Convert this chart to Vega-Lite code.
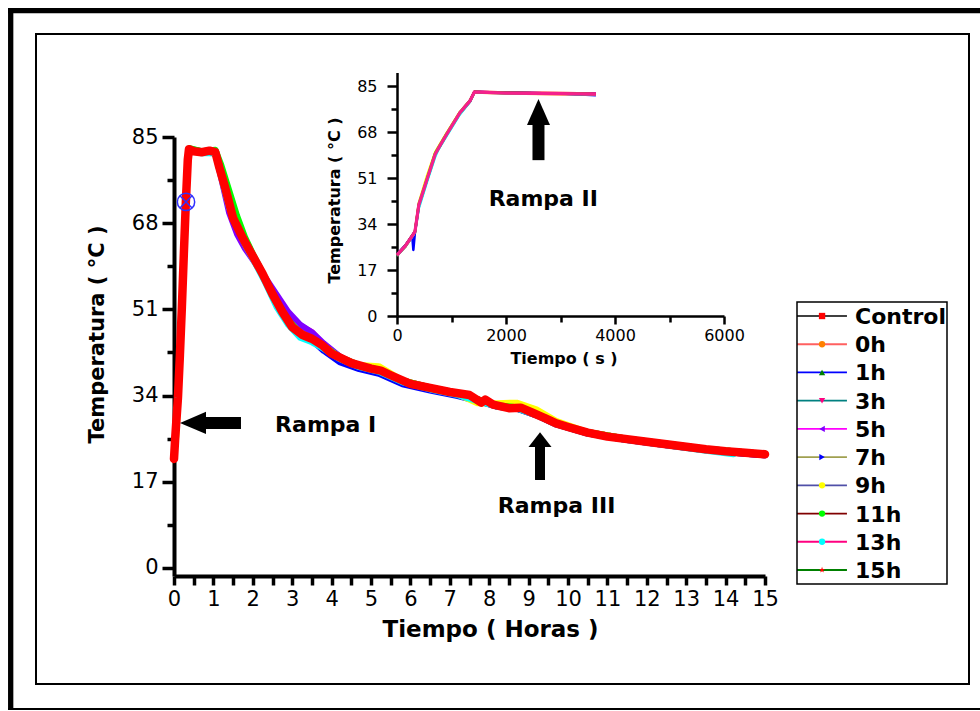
{
"$schema": "https://vega.github.io/schema/vega-lite/v6.json",
"width": 933, "height": 650,
"autosize": {"type": "none"},
"padding": {"left": 36, "top": 34, "right": 11, "bottom": 27},
"background": "white",
"config": {
  "font": "DejaVu Sans",
  "view": {"stroke": "black", "strokeWidth": 2},
  "axis": {"grid": false, "domainColor": "black", "tickColor": "black", "labelColor": "black", "titleColor": "black", "labelFont": "DejaVu Sans", "titleFont": "DejaVu Sans", "labelFlush": false, "labelOverlap": false}
},
"datasets": {
  "main": [
    {"s":"Control","t":0,"v":22.3},{"s":"Control","t":0.06,"v":29.5},{"s":"Control","t":0.15,"v":42.5},{"s":"Control","t":0.25,"v":62.5},{"s":"Control","t":0.35,"v":80.8},{"s":"Control","t":0.4,"v":82.6},{"s":"Control","t":0.7,"v":82.1},{"s":"Control","t":1.05,"v":82.1},{"s":"Control","t":1.2,"v":77.8},{"s":"Control","t":1.4,"v":71.8},{"s":"Control","t":1.6,"v":68},{"s":"Control","t":1.8,"v":64.5},{"s":"Control","t":2,"v":61.6},{"s":"Control","t":2.3,"v":57.4},{"s":"Control","t":2.6,"v":52.8},{"s":"Control","t":2.9,"v":48.9},{"s":"Control","t":3.2,"v":46.4},{"s":"Control","t":3.5,"v":45.3},{"s":"Control","t":3.8,"v":43.8},{"s":"Control","t":4.2,"v":41.6},{"s":"Control","t":4.7,"v":40},{"s":"Control","t":5.2,"v":39.1},{"s":"Control","t":5.8,"v":37},{"s":"Control","t":6.5,"v":35.6},{"s":"Control","t":7.2,"v":34.5},{"s":"Control","t":7.7,"v":33.3},{"s":"Control","t":8.2,"v":32.1},{"s":"Control","t":8.7,"v":31.7},{"s":"Control","t":9.2,"v":30.4},{"s":"Control","t":9.7,"v":28.6},{"s":"Control","t":10.5,"v":26.8},{"s":"Control","t":11.5,"v":25.5},{"s":"Control","t":12.5,"v":24.5},{"s":"Control","t":13.5,"v":23.5},{"s":"Control","t":14.5,"v":22.8},{"s":"Control","t":15,"v":22.5},
    {"s":"0h","t":0,"v":21.8},{"s":"0h","t":0.06,"v":28.5},{"s":"0h","t":0.15,"v":41.5},{"s":"0h","t":0.25,"v":61.5},{"s":"0h","t":0.35,"v":80.2},{"s":"0h","t":0.4,"v":82.4},{"s":"0h","t":0.7,"v":81.9},{"s":"0h","t":1.05,"v":81.9},{"s":"0h","t":1.2,"v":77.2},{"s":"0h","t":1.4,"v":71.2},{"s":"0h","t":1.6,"v":67.5},{"s":"0h","t":1.8,"v":64},{"s":"0h","t":2,"v":61.3},{"s":"0h","t":2.3,"v":57},{"s":"0h","t":2.6,"v":52.4},{"s":"0h","t":2.9,"v":48.5},{"s":"0h","t":3.2,"v":46.1},{"s":"0h","t":3.5,"v":45},{"s":"0h","t":3.8,"v":43.5},{"s":"0h","t":4.2,"v":41.3},{"s":"0h","t":4.7,"v":39.7},{"s":"0h","t":5.2,"v":38.8},{"s":"0h","t":5.8,"v":36.7},{"s":"0h","t":6.5,"v":35.3},{"s":"0h","t":7.2,"v":34.2},{"s":"0h","t":7.7,"v":33},{"s":"0h","t":8.2,"v":31.8},{"s":"0h","t":8.7,"v":31.4},{"s":"0h","t":9.2,"v":30.1},{"s":"0h","t":9.7,"v":28.3},{"s":"0h","t":10.5,"v":26.5},{"s":"0h","t":11.5,"v":25.2},{"s":"0h","t":12.5,"v":24.2},{"s":"0h","t":13.5,"v":23.2},{"s":"0h","t":14.5,"v":22.5},{"s":"0h","t":15,"v":22.2},
    {"s":"1h","t":0,"v":22},{"s":"1h","t":0.06,"v":28},{"s":"1h","t":0.15,"v":40},{"s":"1h","t":0.25,"v":60.5},{"s":"1h","t":0.35,"v":80},{"s":"1h","t":0.4,"v":82.7},{"s":"1h","t":0.7,"v":82.2},{"s":"1h","t":1.05,"v":82.1},{"s":"1h","t":1.2,"v":77.6},{"s":"1h","t":1.4,"v":71.6},{"s":"1h","t":1.6,"v":67.9},{"s":"1h","t":1.8,"v":64.4},{"s":"1h","t":2,"v":61.6},{"s":"1h","t":2.3,"v":57.3},{"s":"1h","t":2.6,"v":52.7},{"s":"1h","t":2.9,"v":48.8},{"s":"1h","t":3.2,"v":46.4},{"s":"1h","t":3.5,"v":45.3},{"s":"1h","t":3.8,"v":43.8},{"s":"1h","t":4.2,"v":41.4},{"s":"1h","t":4.7,"v":39.8},{"s":"1h","t":5.2,"v":38.9},{"s":"1h","t":5.8,"v":36.8},{"s":"1h","t":6.5,"v":35.4},{"s":"1h","t":7.2,"v":34.3},{"s":"1h","t":7.7,"v":33.1},{"s":"1h","t":8.2,"v":31.9},{"s":"1h","t":8.7,"v":31.5},{"s":"1h","t":9.2,"v":30.2},{"s":"1h","t":9.7,"v":28.4},{"s":"1h","t":10.5,"v":26.6},{"s":"1h","t":11.5,"v":25.3},{"s":"1h","t":12.5,"v":24.3},{"s":"1h","t":13.5,"v":23.3},{"s":"1h","t":14.5,"v":22.6},{"s":"1h","t":15,"v":22.3},
    {"s":"3h","t":0,"v":22.2},{"s":"3h","t":0.06,"v":29.2},{"s":"3h","t":0.15,"v":42.3},{"s":"3h","t":0.25,"v":62.3},{"s":"3h","t":0.35,"v":80.7},{"s":"3h","t":0.4,"v":82.6},{"s":"3h","t":0.7,"v":82.1},{"s":"3h","t":1.05,"v":82.2},{"s":"3h","t":1.2,"v":77.3},{"s":"3h","t":1.4,"v":71},{"s":"3h","t":1.6,"v":66.8},{"s":"3h","t":1.8,"v":63.3},{"s":"3h","t":2,"v":61},{"s":"3h","t":2.3,"v":57},{"s":"3h","t":2.6,"v":52.8},{"s":"3h","t":2.9,"v":49.2},{"s":"3h","t":3.2,"v":47.8},{"s":"3h","t":3.5,"v":46.5},{"s":"3h","t":3.8,"v":44},{"s":"3h","t":4.2,"v":41.7},{"s":"3h","t":4.7,"v":40},{"s":"3h","t":5.2,"v":39.1},{"s":"3h","t":5.8,"v":37},{"s":"3h","t":6.5,"v":35.6},{"s":"3h","t":7.2,"v":34.5},{"s":"3h","t":7.7,"v":33.3},{"s":"3h","t":8.2,"v":32.1},{"s":"3h","t":8.7,"v":31.7},{"s":"3h","t":9.2,"v":30.4},{"s":"3h","t":9.7,"v":28.6},{"s":"3h","t":10.5,"v":26.8},{"s":"3h","t":11.5,"v":25.5},{"s":"3h","t":12.5,"v":24.5},{"s":"3h","t":13.5,"v":23.5},{"s":"3h","t":14.5,"v":22.8},{"s":"3h","t":15,"v":22.5},
    {"s":"5h","t":0,"v":21.9},{"s":"5h","t":0.06,"v":28.8},{"s":"5h","t":0.15,"v":41.8},{"s":"5h","t":0.25,"v":61.8},{"s":"5h","t":0.35,"v":80.3},{"s":"5h","t":0.4,"v":82.4},{"s":"5h","t":0.7,"v":81.9},{"s":"5h","t":1.05,"v":81.8},{"s":"5h","t":1.2,"v":76.8},{"s":"5h","t":1.4,"v":70},{"s":"5h","t":1.6,"v":65.8},{"s":"5h","t":1.8,"v":63},{"s":"5h","t":2,"v":60.8},{"s":"5h","t":2.3,"v":57.5},{"s":"5h","t":2.6,"v":54},{"s":"5h","t":2.9,"v":50.5},{"s":"5h","t":3.2,"v":48},{"s":"5h","t":3.5,"v":46.5},{"s":"5h","t":3.8,"v":44.3},{"s":"5h","t":4.2,"v":41.8},{"s":"5h","t":4.7,"v":39.5},{"s":"5h","t":5.2,"v":38.5},{"s":"5h","t":5.8,"v":36.7},{"s":"5h","t":6.5,"v":35.3},{"s":"5h","t":7.2,"v":34.2},{"s":"5h","t":7.7,"v":33},{"s":"5h","t":8.2,"v":31.8},{"s":"5h","t":8.7,"v":31.4},{"s":"5h","t":9.2,"v":30.1},{"s":"5h","t":9.7,"v":28.3},{"s":"5h","t":10.5,"v":26.5},{"s":"5h","t":11.5,"v":25.2},{"s":"5h","t":12.5,"v":24.2},{"s":"5h","t":13.5,"v":23.2},{"s":"5h","t":14.5,"v":22.5},{"s":"5h","t":15,"v":22.2},
    {"s":"7h","t":0,"v":22.1},{"s":"7h","t":0.06,"v":29.3},{"s":"7h","t":0.15,"v":42.2},{"s":"7h","t":0.25,"v":62.2},{"s":"7h","t":0.35,"v":80.6},{"s":"7h","t":0.4,"v":82.5},{"s":"7h","t":0.7,"v":82},{"s":"7h","t":1.05,"v":82},{"s":"7h","t":1.2,"v":77.4},{"s":"7h","t":1.4,"v":71.3},{"s":"7h","t":1.6,"v":67.6},{"s":"7h","t":1.8,"v":64.1},{"s":"7h","t":2,"v":61.3},{"s":"7h","t":2.3,"v":57},{"s":"7h","t":2.6,"v":52.4},{"s":"7h","t":2.9,"v":48.5},{"s":"7h","t":3.2,"v":46},{"s":"7h","t":3.5,"v":44.9},{"s":"7h","t":3.8,"v":42.8},{"s":"7h","t":4.2,"v":40.6},{"s":"7h","t":4.7,"v":39.2},{"s":"7h","t":5.2,"v":38.3},{"s":"7h","t":5.8,"v":36.2},{"s":"7h","t":6.5,"v":35},{"s":"7h","t":7.2,"v":33.9},{"s":"7h","t":7.7,"v":32.9},{"s":"7h","t":8.2,"v":31.8},{"s":"7h","t":8.7,"v":31.4},{"s":"7h","t":9.2,"v":30.1},{"s":"7h","t":9.7,"v":28.3},{"s":"7h","t":10.5,"v":26.5},{"s":"7h","t":11.5,"v":25.2},{"s":"7h","t":12.5,"v":24.2},{"s":"7h","t":13.5,"v":23.2},{"s":"7h","t":14.5,"v":22.5},{"s":"7h","t":15,"v":22.2},
    {"s":"9h","t":0,"v":22.5},{"s":"9h","t":0.06,"v":26},{"s":"9h","t":0.15,"v":40},{"s":"9h","t":0.25,"v":61.5},{"s":"9h","t":0.35,"v":80.4},{"s":"9h","t":0.4,"v":82.4},{"s":"9h","t":0.7,"v":82},{"s":"9h","t":1.05,"v":81.9},{"s":"9h","t":1.2,"v":77.5},{"s":"9h","t":1.4,"v":71.6},{"s":"9h","t":1.6,"v":67.9},{"s":"9h","t":1.8,"v":64.4},{"s":"9h","t":2,"v":61.6},{"s":"9h","t":2.3,"v":57.3},{"s":"9h","t":2.6,"v":52.7},{"s":"9h","t":2.9,"v":48.8},{"s":"9h","t":3.2,"v":46.4},{"s":"9h","t":3.5,"v":45.3},{"s":"9h","t":3.8,"v":43.8},{"s":"9h","t":4.2,"v":41.6},{"s":"9h","t":4.7,"v":40},{"s":"9h","t":5.2,"v":39.8},{"s":"9h","t":5.8,"v":37},{"s":"9h","t":6.5,"v":35.6},{"s":"9h","t":7.2,"v":34.2},{"s":"9h","t":7.7,"v":32.5},{"s":"9h","t":8.2,"v":32.5},{"s":"9h","t":8.7,"v":32.6},{"s":"9h","t":9.2,"v":31.3},{"s":"9h","t":9.7,"v":29},{"s":"9h","t":10.5,"v":26.8},{"s":"9h","t":11.5,"v":25.5},{"s":"9h","t":12.5,"v":24.5},{"s":"9h","t":13.5,"v":23.5},{"s":"9h","t":14.5,"v":22.8},{"s":"9h","t":15,"v":22.5},
    {"s":"11h","t":0,"v":22.4},{"s":"11h","t":0.06,"v":30},{"s":"11h","t":0.15,"v":43},{"s":"11h","t":0.25,"v":63},{"s":"11h","t":0.35,"v":81},{"s":"11h","t":0.4,"v":82.8},{"s":"11h","t":0.7,"v":82.2},{"s":"11h","t":1.05,"v":82.5},{"s":"11h","t":1.2,"v":79.5},{"s":"11h","t":1.4,"v":74.5},{"s":"11h","t":1.6,"v":69.5},{"s":"11h","t":1.8,"v":65.3},{"s":"11h","t":2,"v":62},{"s":"11h","t":2.3,"v":57.5},{"s":"11h","t":2.6,"v":52.8},{"s":"11h","t":2.9,"v":48.9},{"s":"11h","t":3.2,"v":46.4},{"s":"11h","t":3.5,"v":45.3},{"s":"11h","t":3.8,"v":43.8},{"s":"11h","t":4.2,"v":41.6},{"s":"11h","t":4.7,"v":40},{"s":"11h","t":5.2,"v":39.1},{"s":"11h","t":5.8,"v":37},{"s":"11h","t":6.5,"v":35.6},{"s":"11h","t":7.2,"v":34.5},{"s":"11h","t":7.7,"v":33.3},{"s":"11h","t":8.2,"v":32.1},{"s":"11h","t":8.7,"v":31.7},{"s":"11h","t":9.2,"v":30.4},{"s":"11h","t":9.7,"v":28.6},{"s":"11h","t":10.5,"v":26.8},{"s":"11h","t":11.5,"v":25.5},{"s":"11h","t":12.5,"v":24.5},{"s":"11h","t":13.5,"v":23.5},{"s":"11h","t":14.5,"v":22.8},{"s":"11h","t":15,"v":22.5},
    {"s":"13h","t":0,"v":21.6},{"s":"13h","t":0.06,"v":28.2},{"s":"13h","t":0.15,"v":41.2},{"s":"13h","t":0.25,"v":61.2},{"s":"13h","t":0.35,"v":80.1},{"s":"13h","t":0.4,"v":82.3},{"s":"13h","t":0.7,"v":81.8},{"s":"13h","t":1.05,"v":81.8},{"s":"13h","t":1.2,"v":77},{"s":"13h","t":1.4,"v":71},{"s":"13h","t":1.6,"v":67.3},{"s":"13h","t":1.8,"v":63.8},{"s":"13h","t":2,"v":60.9},{"s":"13h","t":2.3,"v":56.5},{"s":"13h","t":2.6,"v":51.5},{"s":"13h","t":2.9,"v":47.9},{"s":"13h","t":3.2,"v":45.4},{"s":"13h","t":3.5,"v":44.5},{"s":"13h","t":3.8,"v":43.2},{"s":"13h","t":4.2,"v":41.2},{"s":"13h","t":4.7,"v":39.6},{"s":"13h","t":5.2,"v":38.7},{"s":"13h","t":5.8,"v":36.6},{"s":"13h","t":6.5,"v":35.2},{"s":"13h","t":7.2,"v":34.1},{"s":"13h","t":7.7,"v":32.9},{"s":"13h","t":8.2,"v":31.8},{"s":"13h","t":8.7,"v":31.4},{"s":"13h","t":9.2,"v":30.1},{"s":"13h","t":9.7,"v":28.3},{"s":"13h","t":10.5,"v":26.5},{"s":"13h","t":11.5,"v":25.2},{"s":"13h","t":12.5,"v":24.2},{"s":"13h","t":13.5,"v":23.1},{"s":"13h","t":14.2,"v":22.4},
    {"s":"15h","t":0,"v":21.5},{"s":"15h","t":0.03,"v":25.5},{"s":"15h","t":0.06,"v":29},{"s":"15h","t":0.1,"v":33.5},{"s":"15h","t":0.15,"v":42},{"s":"15h","t":0.2,"v":51.5},{"s":"15h","t":0.25,"v":62},{"s":"15h","t":0.3,"v":72},{"s":"15h","t":0.35,"v":80.5},{"s":"15h","t":0.38,"v":82.6},{"s":"15h","t":0.5,"v":82.2},{"s":"15h","t":0.7,"v":82},{"s":"15h","t":0.9,"v":82.3},{"s":"15h","t":1.05,"v":82},{"s":"15h","t":1.15,"v":79},{"s":"15h","t":1.3,"v":75},{"s":"15h","t":1.5,"v":69},{"s":"15h","t":1.75,"v":65},{"s":"15h","t":2,"v":61.5},{"s":"15h","t":2.25,"v":58},{"s":"15h","t":2.5,"v":54},{"s":"15h","t":2.75,"v":50.5},{"s":"15h","t":3,"v":47.5},{"s":"15h","t":3.25,"v":46},{"s":"15h","t":3.5,"v":45.2},{"s":"15h","t":3.75,"v":44},{"s":"15h","t":4,"v":42.3},{"s":"15h","t":4.5,"v":40.4},{"s":"15h","t":5,"v":39.3},{"s":"15h","t":5.25,"v":38.9},{"s":"15h","t":5.5,"v":38},{"s":"15h","t":6,"v":36.3},{"s":"15h","t":6.5,"v":35.5},{"s":"15h","t":7,"v":34.7},{"s":"15h","t":7.5,"v":34.1},{"s":"15h","t":7.8,"v":32.6},{"s":"15h","t":7.9,"v":33.2},{"s":"15h","t":8.1,"v":32.2},{"s":"15h","t":8.5,"v":31.5},{"s":"15h","t":8.8,"v":31.6},{"s":"15h","t":9.1,"v":30.6},{"s":"15h","t":9.4,"v":29.6},{"s":"15h","t":9.7,"v":28.5},{"s":"15h","t":10,"v":27.8},{"s":"15h","t":10.5,"v":26.7},{"s":"15h","t":11,"v":25.9},{"s":"15h","t":11.5,"v":25.4},{"s":"15h","t":12,"v":24.9},{"s":"15h","t":12.5,"v":24.4},{"s":"15h","t":13,"v":23.9},{"s":"15h","t":13.5,"v":23.4},{"s":"15h","t":14,"v":23},{"s":"15h","t":14.5,"v":22.7},{"s":"15h","t":15,"v":22.4}
  ],
  "inset": [
    {"s":"Control","t":0,"v":22.7},{"s":"Control","t":150,"v":26},{"s":"Control","t":300,"v":30.4},{"s":"Control","t":330,"v":31.4},{"s":"Control","t":400,"v":41.2},{"s":"Control","t":550,"v":50.7},{"s":"Control","t":700,"v":60},{"s":"Control","t":760,"v":62.2},{"s":"Control","t":900,"v":67},{"s":"Control","t":1150,"v":75.2},{"s":"Control","t":1340,"v":79.7},{"s":"Control","t":1420,"v":83},{"s":"Control","t":2000,"v":82.6},{"s":"Control","t":3000,"v":82.4},{"s":"Control","t":3650,"v":82.2},
    {"s":"0h","t":0,"v":22.3},{"s":"0h","t":150,"v":25.6},{"s":"0h","t":300,"v":30},{"s":"0h","t":330,"v":31},{"s":"0h","t":400,"v":40.8},{"s":"0h","t":550,"v":50.3},{"s":"0h","t":700,"v":59.6},{"s":"0h","t":760,"v":61.8},{"s":"0h","t":900,"v":66.6},{"s":"0h","t":1150,"v":74.8},{"s":"0h","t":1340,"v":79.3},{"s":"0h","t":1420,"v":82.6},{"s":"0h","t":2000,"v":82.2},{"s":"0h","t":3000,"v":82},{"s":"0h","t":3650,"v":81.8},
    {"s":"1h","t":0,"v":22.3},{"s":"1h","t":150,"v":25.6},{"s":"1h","t":300,"v":30},{"s":"1h","t":330,"v":31},{"s":"1h","t":400,"v":40.5},{"s":"1h","t":550,"v":50},{"s":"1h","t":700,"v":59.5},{"s":"1h","t":760,"v":61.8},{"s":"1h","t":900,"v":66.6},{"s":"1h","t":1150,"v":74.7},{"s":"1h","t":1340,"v":79.3},{"s":"1h","t":1420,"v":82.7},{"s":"1h","t":2000,"v":82.4},{"s":"1h","t":3000,"v":82.2},{"s":"1h","t":3650,"v":82},
    {"s":"3h","t":0,"v":22.5},{"s":"3h","t":150,"v":25.8},{"s":"3h","t":300,"v":30.2},{"s":"3h","t":330,"v":31.2},{"s":"3h","t":400,"v":41},{"s":"3h","t":550,"v":50.5},{"s":"3h","t":700,"v":59.8},{"s":"3h","t":760,"v":62},{"s":"3h","t":900,"v":66.8},{"s":"3h","t":1150,"v":75},{"s":"3h","t":1340,"v":79.5},{"s":"3h","t":1420,"v":82.8},{"s":"3h","t":2000,"v":82.4},{"s":"3h","t":3000,"v":82.2},{"s":"3h","t":3650,"v":82},
    {"s":"5h","t":0,"v":22.6},{"s":"5h","t":150,"v":26},{"s":"5h","t":300,"v":30.4},{"s":"5h","t":330,"v":31.4},{"s":"5h","t":400,"v":41.5},{"s":"5h","t":550,"v":51},{"s":"5h","t":700,"v":60.2},{"s":"5h","t":760,"v":62.3},{"s":"5h","t":900,"v":67},{"s":"5h","t":1150,"v":75.2},{"s":"5h","t":1340,"v":79.7},{"s":"5h","t":1420,"v":82.9},{"s":"5h","t":2000,"v":82.5},{"s":"5h","t":3000,"v":82.2},{"s":"5h","t":3650,"v":82.1},
    {"s":"7h","t":0,"v":22.8},{"s":"7h","t":150,"v":26},{"s":"7h","t":280,"v":29.6},{"s":"7h","t":300,"v":24.4},{"s":"7h","t":330,"v":31},{"s":"7h","t":400,"v":40.4},{"s":"7h","t":550,"v":50.2},{"s":"7h","t":700,"v":59.5},{"s":"7h","t":760,"v":61.8},{"s":"7h","t":900,"v":66.6},{"s":"7h","t":1150,"v":74.8},{"s":"7h","t":1340,"v":79.4},{"s":"7h","t":1420,"v":82.8},{"s":"7h","t":2000,"v":82.5},{"s":"7h","t":3000,"v":82.2},{"s":"7h","t":3650,"v":81.6},
    {"s":"9h","t":0,"v":22.4},{"s":"9h","t":150,"v":25.7},{"s":"9h","t":300,"v":30},{"s":"9h","t":330,"v":31.2},{"s":"9h","t":400,"v":41.8},{"s":"9h","t":550,"v":51.8},{"s":"9h","t":700,"v":60.6},{"s":"9h","t":760,"v":62.6},{"s":"9h","t":900,"v":67.3},{"s":"9h","t":1150,"v":75.3},{"s":"9h","t":1340,"v":79.7},{"s":"9h","t":1420,"v":82.8},{"s":"9h","t":2000,"v":82.4},{"s":"9h","t":3000,"v":82.2},{"s":"9h","t":3650,"v":82},
    {"s":"11h","t":0,"v":22.5},{"s":"11h","t":150,"v":25.9},{"s":"11h","t":300,"v":30.3},{"s":"11h","t":330,"v":31.3},{"s":"11h","t":400,"v":41.2},{"s":"11h","t":550,"v":50.8},{"s":"11h","t":700,"v":60.2},{"s":"11h","t":760,"v":62.2},{"s":"11h","t":900,"v":67},{"s":"11h","t":1150,"v":75.1},{"s":"11h","t":1340,"v":79.6},{"s":"11h","t":1420,"v":82.8},{"s":"11h","t":2000,"v":82.4},{"s":"11h","t":3000,"v":82.2},{"s":"11h","t":3650,"v":82},
    {"s":"13h","t":0,"v":22.3},{"s":"13h","t":150,"v":25.6},{"s":"13h","t":300,"v":30},{"s":"13h","t":330,"v":31},{"s":"13h","t":400,"v":39.8},{"s":"13h","t":550,"v":49.6},{"s":"13h","t":700,"v":58.8},{"s":"13h","t":760,"v":61.6},{"s":"13h","t":900,"v":66.2},{"s":"13h","t":1150,"v":74.4},{"s":"13h","t":1340,"v":79.2},{"s":"13h","t":1420,"v":82.7},{"s":"13h","t":2000,"v":82.3},{"s":"13h","t":3000,"v":82.1},{"s":"13h","t":3650,"v":81.9},
    {"s":"15h","t":0,"v":22.5},{"s":"15h","t":150,"v":25.8},{"s":"15h","t":300,"v":30.2},{"s":"15h","t":330,"v":31.2},{"s":"15h","t":400,"v":41},{"s":"15h","t":550,"v":50.5},{"s":"15h","t":700,"v":59.8},{"s":"15h","t":760,"v":62},{"s":"15h","t":900,"v":66.8},{"s":"15h","t":1150,"v":75},{"s":"15h","t":1340,"v":79.5},{"s":"15h","t":1420,"v":82.8},{"s":"15h","t":2000,"v":82.4},{"s":"15h","t":3000,"v":82.2},{"s":"15h","t":3650,"v":82}
  ],
  "legend": [
    {"s":"Control"},{"s":"0h"},{"s":"1h"},{"s":"3h"},{"s":"5h"},{"s":"7h"},{"s":"9h"},{"s":"11h"},{"s":"13h"},{"s":"15h"}
  ],
  "one": [{}]
},
"resolve": {"scale": {"x": "independent", "y": "independent"}},
"layer": [
  {
    "data": {"name": "main"},
    "transform": [{"filter": "datum.s !== '15h'"}],
    "mark": {"type": "line", "strokeWidth": 6, "strokeJoin": "round", "strokeCap": "round"},
    "encoding": {
      "x": {"field": "t", "type": "quantitative",
        "scale": {"domain": [0, 15], "range": [138, 729], "nice": false, "zero": false},
        "axis": {"orient": "bottom", "offset": -108, "values": [0,0.5,1,1.5,2,2.5,3,3.5,4,4.5,5,5.5,6,6.5,7,7.5,8,8.5,9,9.5,10,10.5,11,11.5,12,12.5,13,13.5,14,14.5,15],
          "labelExpr": "datum.value % 1 === 0 ? '' + datum.value : ''",
          "domainWidth": 4, "tickWidth": 3.5, "tickSize": 9, "labelFontSize": 21, "labelPadding": 3,
          "title": "Tiempo ( Horas )", "titleFontSize": 23, "titleFontWeight": "bold",
          "titleX": 454, "titleY": 53, "titleBaseline": "middle", "titleAlign": "center"}},
      "y": {"field": "v", "type": "quantitative",
        "scale": {"domain": [-1.6, 85], "range": [542, 103], "nice": false, "zero": false},
        "axis": {"orient": "left", "offset": -138, "values": [0,17,34,51,68,85], "format": "d",
          "domainWidth": 4, "tickWidth": 3.5, "tickSize": 12, "labelFontSize": 21, "labelPadding": 4,
          "title": "Temperatura ( °C )", "titleFontSize": 21, "titleFontWeight": "bold",
          "titleX": -77, "titleY": 300, "titleAngle": -90, "titleBaseline": "middle", "titleAlign": "center"}},
      "color": {"field": "s", "type": "nominal",
        "scale": {"domain": ["Control","0h","1h","3h","5h","7h","9h","11h","13h","15h"],
                  "range": ["#ff0000","#ff8000","#008000","#ff0080","#8000ff","#0000ff","#ffff00","#00ff00","#00ffff","#ff0000"]},
        "legend": null}
    }
  },
  {
    "data": {"name": "main"},
    "transform": [{"filter": "datum.s === '15h'"}],
    "mark": {"type": "line", "strokeWidth": 8.5, "strokeJoin": "round", "strokeCap": "round", "color": "#ff0000"},
    "encoding": {
      "x": {"field": "t", "type": "quantitative", "scale": {"domain": [0, 15], "range": [138, 729], "nice": false, "zero": false}, "axis": null},
      "y": {"field": "v", "type": "quantitative", "scale": {"domain": [-1.6, 85], "range": [542, 103], "nice": false, "zero": false},
        "axis": {"orient": "left", "offset": -138, "values": [8.5,25.5,42.5,59.5,76.5], "labels": false, "domain": false, "title": null, "tickSize": 7, "tickWidth": 3.5}}
    }
  },
  {
    "data": {"name": "one"},
    "mark": {"type": "point", "shape": "circle", "size": 300, "filled": false, "stroke": "#2f2fff", "strokeWidth": 1.5, "opacity": 1},
    "encoding": {
      "x": {"datum": 0.305, "type": "quantitative", "scale": {"domain": [0, 15], "range": [138, 729], "nice": false, "zero": false}, "axis": null},
      "y": {"datum": 72.2, "type": "quantitative", "scale": {"domain": [-1.6, 85], "range": [542, 103], "nice": false, "zero": false}, "axis": null}
    }
  },
  {
    "data": {"name": "one"},
    "mark": {"type": "point", "shape": "M-0.7,-0.7L0.7,0.7M0.7,-0.7L-0.7,0.7", "size": 300, "filled": false, "stroke": "#2f2fff", "strokeWidth": 1.5, "opacity": 1},
    "encoding": {
      "x": {"datum": 0.305, "type": "quantitative", "scale": {"domain": [0, 15], "range": [138, 729], "nice": false, "zero": false}, "axis": null},
      "y": {"datum": 72.2, "type": "quantitative", "scale": {"domain": [-1.6, 85], "range": [542, 103], "nice": false, "zero": false}, "axis": null}
    }
  },
  {
    "data": {"name": "one"},
    "mark": {"type": "rule", "strokeWidth": 12, "color": "black", "strokeCap": "butt"},
    "encoding": {
      "x": {"datum": 0.79, "type": "quantitative", "scale": {"domain": [0, 15], "range": [138, 729], "nice": false, "zero": false}, "axis": null},
      "x2": {"datum": 1.7},
      "y": {"datum": 28.6, "type": "quantitative", "scale": {"domain": [-1.6, 85], "range": [542, 103], "nice": false, "zero": false}, "axis": null}
    }
  },
  {
    "data": {"name": "one"},
    "mark": {"type": "point", "shape": "M-1,0L1,-0.85L1,0.85Z", "size": 676, "filled": true, "color": "black", "opacity": 1},
    "encoding": {
      "x": {"datum": 0.482, "type": "quantitative", "scale": {"domain": [0, 15], "range": [138, 729], "nice": false, "zero": false}, "axis": null},
      "y": {"datum": 28.6, "type": "quantitative", "scale": {"domain": [-1.6, 85], "range": [542, 103], "nice": false, "zero": false}, "axis": null}
    }
  },
  {
    "data": {"name": "one"},
    "mark": {"type": "rule", "strokeWidth": 10, "color": "black", "strokeCap": "butt"},
    "encoding": {
      "x": {"datum": 9.29, "type": "quantitative", "scale": {"domain": [0, 15], "range": [138, 729], "nice": false, "zero": false}, "axis": null},
      "y": {"datum": 23.85, "type": "quantitative", "scale": {"domain": [-1.6, 85], "range": [542, 103], "nice": false, "zero": false}, "axis": null},
      "y2": {"datum": 17.34}
    }
  },
  {
    "data": {"name": "one"},
    "mark": {"type": "point", "shape": "M0,-0.65L1,0.65L-1,0.65Z", "size": 529, "filled": true, "color": "black", "opacity": 1},
    "encoding": {
      "x": {"datum": 9.29, "type": "quantitative", "scale": {"domain": [0, 15], "range": [138, 729], "nice": false, "zero": false}, "axis": null},
      "y": {"datum": 25.3, "type": "quantitative", "scale": {"domain": [-1.6, 85], "range": [542, 103], "nice": false, "zero": false}, "axis": null}
    }
  },
  {
    "data": {"name": "one"},
    "mark": {"type": "text", "text": "Rampa I", "fontSize": 22, "fontWeight": "bold", "align": "center", "baseline": "alphabetic", "color": "black"},
    "encoding": {
      "x": {"datum": 3.85, "type": "quantitative", "scale": {"domain": [0, 15], "range": [138, 729], "nice": false, "zero": false}, "axis": null},
      "y": {"datum": 26.87, "type": "quantitative", "scale": {"domain": [-1.6, 85], "range": [542, 103], "nice": false, "zero": false}, "axis": null}
    }
  },
  {
    "data": {"name": "one"},
    "mark": {"type": "text", "text": "Rampa III", "fontSize": 22, "fontWeight": "bold", "align": "center", "baseline": "alphabetic", "color": "black"},
    "encoding": {
      "x": {"datum": 9.71, "type": "quantitative", "scale": {"domain": [0, 15], "range": [138, 729], "nice": false, "zero": false}, "axis": null},
      "y": {"datum": 10.77, "type": "quantitative", "scale": {"domain": [-1.6, 85], "range": [542, 103], "nice": false, "zero": false}, "axis": null}
    }
  },
  {
    "data": {"name": "one"},
    "mark": {"type": "rule", "strokeWidth": 5.3, "color": "black", "strokeCap": "butt"},
    "encoding": {
      "x": {"datum": -4.145, "type": "quantitative", "scale": {"domain": [0, 15], "range": [138, 729], "nice": false, "zero": false}, "axis": null},
      "y": {"datum": 110.45, "type": "quantitative", "scale": {"domain": [-1.6, 85], "range": [542, 103], "nice": false, "zero": false}, "axis": null},
      "y2": {"datum": -28.03}
    }
  },
  {
    "data": {"name": "one"},
    "mark": {"type": "rule", "strokeWidth": 5.3, "color": "black", "strokeCap": "butt"},
    "encoding": {
      "x": {"datum": -4.213, "type": "quantitative", "scale": {"domain": [0, 15], "range": [138, 729], "nice": false, "zero": false}, "axis": null},
      "x2": {"datum": 20.71},
      "y": {"datum": 109.91, "type": "quantitative", "scale": {"domain": [-1.6, 85], "range": [542, 103], "nice": false, "zero": false}, "axis": null}
    }
  },
  {
    "data": {"name": "one"},
    "mark": {"type": "rule", "strokeWidth": 2, "color": "black", "strokeCap": "butt"},
    "encoding": {
      "x": {"datum": -4.213, "type": "quantitative", "scale": {"domain": [0, 15], "range": [138, 729], "nice": false, "zero": false}, "axis": null},
      "x2": {"datum": 20.71},
      "y": {"datum": -27.84, "type": "quantitative", "scale": {"domain": [-1.6, 85], "range": [542, 103], "nice": false, "zero": false}, "axis": null}
    }
  },
  {
    "data": {"name": "inset"},
    "transform": [{"filter": "datum.s !== '3h'"}],
    "mark": {"type": "line", "strokeWidth": 2.5, "strokeJoin": "round"},
    "encoding": {
      "x": {"field": "t", "type": "quantitative",
        "scale": {"domain": [0, 6000], "range": [361, 688], "nice": false, "zero": false},
        "axis": {"orient": "bottom", "offset": -368, "values": [0,2000,4000,6000], "format": "d",
          "domainWidth": 2.5, "tickWidth": 2.5, "tickSize": 8, "labelFontSize": 16, "labelPadding": 3,
          "title": "Tiempo ( s )", "titleFontSize": 16, "titleFontWeight": "bold",
          "titleX": 527.5, "titleY": 42, "titleBaseline": "middle", "titleAlign": "center"}},
      "y": {"field": "v", "type": "quantitative",
        "scale": {"domain": [0, 90], "range": [282, 38.5], "nice": false, "zero": false},
        "axis": {"orient": "left", "offset": -361, "values": [0,17,34,51,68,85], "format": "d",
          "domainWidth": 2.5, "tickWidth": 2.5, "tickSize": 10, "labelFontSize": 16, "labelPadding": 10,
          "title": "Temperatura ( °C )", "titleFontSize": 16, "titleFontWeight": "bold",
          "titleX": -62.5, "titleY": 166, "titleAngle": -90, "titleBaseline": "middle", "titleAlign": "center"}},
      "color": {"field": "s", "type": "nominal", "legend": null}
    }
  },
  {
    "data": {"name": "inset"},
    "transform": [{"filter": "datum.s === '3h'"}],
    "mark": {"type": "line", "strokeWidth": 3.2, "strokeJoin": "round", "color": "#f5208c"},
    "encoding": {
      "x": {"field": "t", "type": "quantitative", "scale": {"domain": [0, 6000], "range": [361, 688], "nice": false, "zero": false},
        "axis": {"orient": "bottom", "offset": -368, "values": [1000,3000,5000], "labels": false, "domain": false, "title": null, "tickSize": 6, "tickWidth": 2.5}},
      "y": {"field": "v", "type": "quantitative", "scale": {"domain": [0, 90], "range": [282, 38.5], "nice": false, "zero": false},
        "axis": {"orient": "left", "offset": -361, "values": [8.5,25.5,42.5,59.5,76.5], "labels": false, "domain": false, "title": null, "tickSize": 6, "tickWidth": 2.5}}
    }
  },
  {
    "data": {"name": "one"},
    "mark": {"type": "rule", "strokeWidth": 12, "color": "black", "strokeCap": "butt"},
    "encoding": {
      "x": {"datum": 2596, "type": "quantitative", "scale": {"domain": [0, 6000], "range": [361, 688], "nice": false, "zero": false}, "axis": null},
      "y": {"datum": 70.6, "type": "quantitative", "scale": {"domain": [0, 90], "range": [282, 38.5], "nice": false, "zero": false}, "axis": null},
      "y2": {"datum": 57.6}
    }
  },
  {
    "data": {"name": "one"},
    "mark": {"type": "point", "shape": "M0,-1.13L1,1.13L-1,1.13Z", "size": 529, "filled": true, "color": "black", "opacity": 1},
    "encoding": {
      "x": {"datum": 2596, "type": "quantitative", "scale": {"domain": [0, 6000], "range": [361, 688], "nice": false, "zero": false}, "axis": null},
      "y": {"datum": 75.4, "type": "quantitative", "scale": {"domain": [0, 90], "range": [282, 38.5], "nice": false, "zero": false}, "axis": null}
    }
  },
  {
    "data": {"name": "one"},
    "mark": {"type": "text", "text": "Rampa II", "fontSize": 22, "fontWeight": "bold", "align": "center", "baseline": "alphabetic", "color": "black"},
    "encoding": {
      "x": {"datum": 2685, "type": "quantitative", "scale": {"domain": [0, 6000], "range": [361, 688], "nice": false, "zero": false}, "axis": null},
      "y": {"datum": 40.5, "type": "quantitative", "scale": {"domain": [0, 90], "range": [282, 38.5], "nice": false, "zero": false}, "axis": null}
    }
  },
  {
    "data": {"name": "legend"},
    "mark": {"type": "rule", "strokeWidth": 1.8},
    "encoding": {
      "x": {"datum": 0, "type": "quantitative", "scale": {"domain": [0, 100], "range": [761, 911], "nice": false, "zero": false}, "axis": null},
      "x2": {"datum": 33.3},
      "y": {"field": "s", "type": "nominal", "scale": {"type": "band", "domain": ["Control","0h","1h","3h","5h","7h","9h","11h","13h","15h"], "range": [267.9, 550.1], "paddingInner": 0, "paddingOuter": 0}, "axis": null},
      "stroke": {"field": "s", "type": "nominal",
        "scale": {"domain": ["Control","0h","1h","3h","5h","7h","9h","11h","13h","15h"],
                  "range": ["#404040","#ff6060","#0000ff","#008080","#ff00ff","#a0a050","#5050a8","#800000","#ff0080","#008000"]},
        "legend": null}
    }
  },
  {
    "data": {"name": "legend"},
    "mark": {"type": "point", "filled": true, "opacity": 1, "size": 40},
    "encoding": {
      "x": {"datum": 16.7, "type": "quantitative", "scale": {"domain": [0, 100], "range": [761, 911], "nice": false, "zero": false}, "axis": null},
      "y": {"field": "s", "type": "nominal", "scale": {"type": "band", "domain": ["Control","0h","1h","3h","5h","7h","9h","11h","13h","15h"], "range": [267.9, 550.1], "paddingInner": 0, "paddingOuter": 0}, "axis": null},
      "color": {"field": "s", "type": "nominal", "legend": null},
      "shape": {"field": "s", "type": "nominal",
        "scale": {"domain": ["Control","0h","1h","3h","5h","7h","9h","11h","13h","15h"],
                  "range": ["square","circle","triangle-up","triangle-down","triangle-left","triangle-right","circle","circle","circle","M0,-1L0.224,-0.309L0.951,-0.309L0.363,0.118L0.588,0.809L0,0.382L-0.588,0.809L-0.363,0.118L-0.951,-0.309L-0.224,-0.309Z"]},
        "legend": null}
    }
  },
  {
    "data": {"name": "legend"},
    "mark": {"type": "text", "fontSize": 22, "fontWeight": "bold", "align": "left", "baseline": "middle", "color": "black", "dy": 1},
    "encoding": {
      "x": {"datum": 38.7, "type": "quantitative", "scale": {"domain": [0, 100], "range": [761, 911], "nice": false, "zero": false}, "axis": null},
      "y": {"field": "s", "type": "nominal", "scale": {"type": "band", "domain": ["Control","0h","1h","3h","5h","7h","9h","11h","13h","15h"], "range": [267.9, 550.1], "paddingInner": 0, "paddingOuter": 0}, "axis": null},
      "text": {"field": "s", "type": "nominal"}
    }
  },
  {
    "data": {"name": "one"},
    "mark": {"type": "rect", "fill": "transparent", "stroke": "black", "strokeWidth": 1.5},
    "encoding": {
      "x": {"datum": 0, "type": "quantitative", "scale": {"domain": [0, 100], "range": [761, 911], "nice": false, "zero": false}, "axis": null},
      "x2": {"datum": 100},
      "y": {"datum": "Control", "type": "nominal", "bandPosition": 0, "scale": {"type": "band", "domain": ["Control","0h","1h","3h","5h","7h","9h","11h","13h","15h"], "range": [267.9, 550.1], "paddingInner": 0, "paddingOuter": 0}, "axis": null},
      "y2": {"datum": "15h", "bandPosition": 1}
    }
  }
]
}
